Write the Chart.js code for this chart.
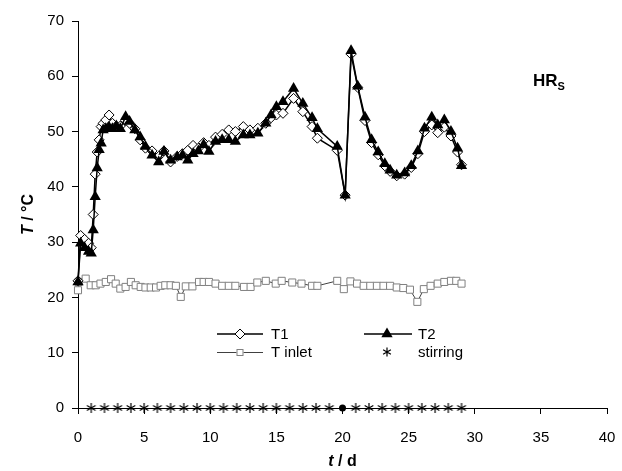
<!DOCTYPE html>
<html><head><meta charset="utf-8">
<script src="https://cdn.jsdelivr.net/npm/chart.js@4/dist/chart.umd.min.js"></script>
<style>html,body{margin:0;padding:0;background:#fff;}#wrap{position:relative;width:622px;height:471px;}</style>
</head><body><div id="wrap"><canvas id="c" width="622" height="471"></canvas></div>
<script>
// ---- data ----
const days = [0, 0.2, 0.5, 0.8, 1.0, 1.15, 1.3, 1.45, 1.6, 1.75,
  1.9, 2.1, 2.35, 2.6, 2.9, 3.2, 3.6, 3.9, 4.3, 4.7,
  5.1, 5.6, 6.1, 6.5, 7.0, 7.5, 7.9, 8.3, 8.7, 9.1,
  9.5, 9.9, 10.4, 10.9, 11.4, 11.9, 12.5, 13.0, 13.6, 14.2,
  14.6, 15.0, 15.5, 16.3, 17.0, 17.7, 18.1, 19.6, 20.2, 20.65,
  21.15, 21.7, 22.2, 22.7, 23.2, 23.6, 24.1, 24.7, 25.2, 25.7,
  26.2, 26.75, 27.2, 27.7, 28.2, 28.7, 29.0];
const t1Values = [23.0, 31.2, 30.5, 29.8, 29.0, 35.0, 42.3, 46.3, 48.5, 50.9,
  51.5, 52.1, 53.0, 51.5, 51.0, 51.0, 52.0, 51.5, 50.5, 48.5,
  47.0, 46.5, 45.5, 46.5, 44.5, 45.5, 46.0, 46.6, 47.5, 47.0,
  48.0, 47.5, 49.0, 49.5, 50.3, 50.0, 50.9, 50.3, 50.6, 51.5,
  52.5, 53.0, 53.3, 56.0, 53.6, 50.9, 48.8, 46.6, 38.5, 64.0,
  58.0, 52.0, 48.0, 45.8, 43.8, 42.8, 42.0, 42.3, 43.5, 46.0,
  50.0, 51.2, 49.8, 50.8, 49.2, 46.3, 44.0];
const t2Values = [22.8, 29.8, 29.0, 28.3, 28.0, 32.2, 38.2, 43.4, 46.7, 47.9,
  50.3, 50.5, 50.8, 50.5, 51.0, 50.5, 52.7, 51.8, 50.3, 49.0,
  47.3, 45.7, 44.5, 46.4, 44.8, 45.4, 45.7, 44.8, 46.0, 46.5,
  47.6, 46.4, 48.2, 48.5, 48.5, 48.2, 49.4, 49.4, 49.7, 51.5,
  53.0, 54.5, 55.4, 57.8, 55.1, 52.5, 50.5, 47.3, 38.5, 64.6,
  58.2, 52.6, 48.5, 46.3, 44.2, 43.0, 42.1, 42.5, 43.8, 46.5,
  50.6, 52.6, 51.2, 52.1, 50.0, 47.0, 43.8];
const inletDays = [0, 0.05, 0.58, 0.96, 1.34, 1.7, 2.1, 2.5, 2.85, 3.2,
  3.6, 4.0, 4.36, 4.74, 5.1, 5.5, 5.9, 6.25, 6.6, 7.0,
  7.4, 7.77, 8.15, 8.65, 9.15, 9.5, 9.9, 10.4, 10.9, 11.4,
  11.9, 12.55, 13.05, 13.56, 14.2, 14.95, 15.4, 16.2, 16.9, 17.7,
  18.1, 19.6, 20.1, 20.6, 21.1, 21.6, 22.1, 22.6, 23.1, 23.6,
  24.1, 24.6, 25.1, 25.66, 26.15, 26.66, 27.2, 27.7, 28.2, 28.6, 29.0];
const inletValues = [21.3, 22.8, 23.4, 22.2, 22.2, 22.5, 22.8, 23.3, 22.5, 21.6,
  21.9, 22.8, 22.2, 21.9, 21.8, 21.8, 21.8, 22.1, 22.2, 22.2,
  22.1, 20.1, 22.0, 22.0, 22.8, 22.8, 22.8, 22.5, 22.1, 22.1,
  22.1, 21.9, 21.9, 22.7, 23.0, 22.5, 23.0, 22.7, 22.5, 22.1,
  22.1, 23.0, 21.5, 22.9, 22.5, 22.1, 22.1, 22.1, 22.1, 22.1,
  21.8, 21.7, 21.4, 19.2, 21.5, 22.1, 22.5, 22.8, 23.0, 23.0, 22.5];
const stirDays = [1, 2, 3, 4, 5, 6, 7, 8, 9, 10, 11, 12, 13, 14, 15, 16, 17, 18, 19, 20,
  21, 22, 23, 24, 25, 26, 27, 28, 29];
const stirValues = [0, 0, 0, 0, 0, 0, 0, 0, 0, 0, 0, 0, 0, 0, 0, 0, 0, 0, 0, 0,
  0, 0, 0, 0, 0, 0, 0, 0, 0];
const seriesNames = ['T1', 'T2', 'T inlet', 'stirring'];
const xTitleParts = ['t', ' / d'];
const yTitleParts = ['T', ' / °C'];
const panelLabel = ['HR', 'S'];

// ---- rendering ----
const FONT = '"Liberation Sans", Arial, Helvetica, sans-serif';
const pts = (xs, ys) => xs.map((x, i) => ({x: x, y: ys[i]}));

function drawAsterisk(ctx, x, y, r) {
  ctx.save();
  ctx.strokeStyle = '#000'; ctx.lineWidth = 1.2;
  ctx.beginPath();
  for (const a of [90, 30, 150]) {
    const rad = a * Math.PI / 180;
    ctx.moveTo(x - Math.cos(rad) * r, y - Math.sin(rad) * r);
    ctx.lineTo(x + Math.cos(rad) * r, y + Math.sin(rad) * r);
  }
  ctx.stroke();
  ctx.restore();
}
const starCanvas = document.createElement('canvas');
starCanvas.width = 12; starCanvas.height = 12;
drawAsterisk(starCanvas.getContext('2d'), 6, 6, 5);

const stirStyles = stirDays.map(d => d === 20 ? 'circle' : starCanvas);
const stirRadius = stirDays.map(d => d === 20 ? 3.5 : 5);

function drawDiamond(ctx, x, y, r) {
  ctx.beginPath(); ctx.moveTo(x, y - r); ctx.lineTo(x + r, y); ctx.lineTo(x, y + r); ctx.lineTo(x - r, y); ctx.closePath();
  ctx.fillStyle = '#fff'; ctx.fill(); ctx.strokeStyle = '#000'; ctx.lineWidth = 1; ctx.stroke();
}
function drawTriangle(ctx, x, y, r) {
  ctx.beginPath(); ctx.moveTo(x, y - r); ctx.lineTo(x + r * 0.87, y + r * 0.5); ctx.lineTo(x - r * 0.87, y + r * 0.5); ctx.closePath();
  ctx.fillStyle = '#000'; ctx.fill();
}
function drawSquare(ctx, x, y, h) {
  ctx.fillStyle = '#fff'; ctx.fillRect(x - h, y - h, 2 * h, 2 * h);
  ctx.strokeStyle = '#808080'; ctx.lineWidth = 1; ctx.strokeRect(x - h + 0.5, y - h + 0.5, 2 * h - 1, 2 * h - 1);
}

const overlay = {
  id: 'overlay',
  afterDraw(chart) {
    const ctx = chart.ctx;
    const area = chart.chartArea;
    ctx.save();
    // legend
    ctx.font = '15px ' + FONT; ctx.textBaseline = 'middle'; ctx.fillStyle = '#000';
    const r1 = 334, r2 = 352;
    ctx.strokeStyle = '#000'; ctx.lineWidth = 1.5;
    ctx.beginPath(); ctx.moveTo(217, r1); ctx.lineTo(263, r1); ctx.stroke();
    drawDiamond(ctx, 240, r1, 5);
    ctx.fillStyle = '#000'; ctx.fillText(seriesNames[0], 271, r1 + 1);
    ctx.strokeStyle = '#000'; ctx.lineWidth = 1.5;
    ctx.beginPath(); ctx.moveTo(364, r1); ctx.lineTo(412, r1); ctx.stroke();
    drawTriangle(ctx, 387, r1, 6.5);
    ctx.fillStyle = '#000'; ctx.fillText(seriesNames[1], 418, r1 + 1);
    ctx.strokeStyle = '#404040'; ctx.lineWidth = 1;
    ctx.beginPath(); ctx.moveTo(217, r2 + 0.5); ctx.lineTo(263, r2 + 0.5); ctx.stroke();
    drawSquare(ctx, 240, r2 + 0.5, 3.5);
    ctx.fillStyle = '#000'; ctx.fillText(seriesNames[2], 271, r2 + 1);
    drawAsterisk(ctx, 387, r2, 4.5);
    ctx.fillStyle = '#000'; ctx.fillText(seriesNames[3], 418, r2 + 1);

    // panel label HR_S
    ctx.font = 'bold 17px ' + FONT; ctx.textBaseline = 'alphabetic';
    ctx.fillText(panelLabel[0], 533, 86);
    const w = ctx.measureText(panelLabel[0]).width;
    ctx.font = 'bold 11px ' + FONT;
    ctx.fillText(panelLabel[1], 533 + w, 90);

    // x title
    const cx = (area.left + area.right) / 2;
    ctx.textBaseline = 'middle';
    ctx.font = 'italic bold 16px ' + FONT;
    const a1 = ctx.measureText(xTitleParts[0]).width;
    ctx.font = 'bold 16px ' + FONT;
    const a2 = ctx.measureText(xTitleParts[1]).width;
    let sx = cx - (a1 + a2) / 2;
    ctx.font = 'italic bold 16px ' + FONT; ctx.fillText(xTitleParts[0], sx, 462);
    ctx.font = 'bold 16px ' + FONT; ctx.fillText(xTitleParts[1], sx + a1, 462);

    // y title
    const cy = (area.top + area.bottom) / 2;
    ctx.save();
    ctx.translate(29, cy); ctx.rotate(-Math.PI / 2);
    ctx.font = 'italic bold 16px ' + FONT;
    const b1 = ctx.measureText(yTitleParts[0]).width;
    ctx.font = 'bold 16px ' + FONT;
    const b2 = ctx.measureText(yTitleParts[1]).width;
    const sy = -(b1 + b2) / 2;
    ctx.font = 'italic bold 16px ' + FONT; ctx.fillText(yTitleParts[0], sy, 0);
    ctx.font = 'bold 16px ' + FONT; ctx.fillText(yTitleParts[1], sy + b1, 0);
    ctx.restore();
    ctx.restore();
  }
};

new Chart(document.getElementById('c'), {
  type: 'line',
  data: {
    datasets: [
      {label: seriesNames[0], data: pts(days, t1Values), borderColor: '#000', borderWidth: 1.5,
       pointStyle: 'rectRot', pointRadius: 5, pointBackgroundColor: '#fff', pointBorderColor: '#000', pointBorderWidth: 1,
       tension: 0, clip: false, order: 1},
      {label: seriesNames[1], data: pts(days, t2Values), borderColor: '#000', borderWidth: 1.5,
       pointStyle: 'triangle', pointRadius: 6.5, pointBackgroundColor: '#000', pointBorderColor: '#000', pointBorderWidth: 0,
       tension: 0, clip: false, order: 0},
      {label: seriesNames[2], data: pts(inletDays, inletValues), borderColor: '#404040', borderWidth: 1,
       pointStyle: 'rect', pointRadius: 5, pointBackgroundColor: '#fff', pointBorderColor: '#808080', pointBorderWidth: 1,
       tension: 0, clip: false, order: 2},
      {label: seriesNames[3], data: pts(stirDays, stirValues), showLine: false,
       pointStyle: stirStyles, pointRadius: stirRadius, pointBackgroundColor: '#000', pointBorderColor: '#000', pointBorderWidth: 0,
       clip: false, order: 3}
    ]
  },
  options: {
    responsive: false, animation: false, devicePixelRatio: 1,
    layout: {padding: {left: 0, top: 21, right: 15, bottom: 0}},
    plugins: {legend: {display: false}, tooltip: {enabled: false}},
    scales: {
      x: {type: 'linear', min: 0, max: 40,
        ticks: {stepSize: 5, color: '#000', font: {family: FONT, size: 15}, padding: 15, maxRotation: 0},
        grid: {display: true, drawOnChartArea: false, drawTicks: true, tickLength: 6, color: '#000'},
        border: {display: true, color: '#000', width: 1},
        afterFit: s => { s.height = 63; s.paddingRight = 0; s.paddingLeft = 0; }},
      y: {type: 'linear', min: 0, max: 70,
        ticks: {stepSize: 10, color: '#000', font: {family: FONT, size: 15}, padding: 8},
        grid: {display: true, drawOnChartArea: false, drawTicks: true, tickLength: 6, color: '#000'},
        border: {display: true, color: '#000', width: 1},
        afterFit: s => { s.width = 78; }}
    }
  },
  plugins: [overlay]
});
</script>
</body></html>
